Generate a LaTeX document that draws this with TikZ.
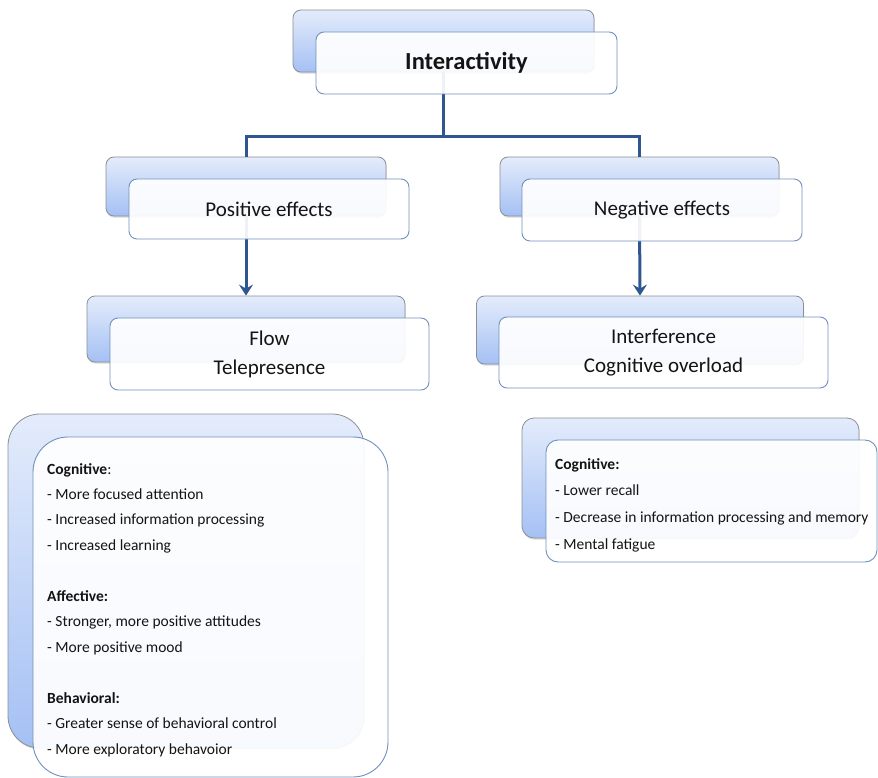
\documentclass[tikz,border=0pt]{standalone}
\usepackage{fontspec}
\setmainfont{Carlito}
\usetikzlibrary{arrows.meta,shadows}

\definecolor{backtop}{HTML}{E4ECFB}
\definecolor{backbot}{HTML}{A4C0F4}
\definecolor{backline}{HTML}{8C8F96}
\definecolor{frontline}{HTML}{7090BE}
\definecolor{connblue}{HTML}{2F5690}
\definecolor{textc}{HTML}{141414}

\tikzset{
  backbox/.style={draw=backline, line width=0.8pt, rounded corners=#1,
    top color=backtop, bottom color=backbot, inner sep=0pt,
    drop shadow={shadow xshift=0.6pt, shadow yshift=-1.6pt, opacity=0.15, fill=black}},
  backbox/.default=8pt,
  frontbox/.style={draw=frontline, line width=0.9pt, rounded corners=#1,
    fill=white, fill opacity=0.92, text opacity=1, inner sep=0pt, text=textc},
  frontbox/.default=8pt,
  connector/.style={draw=connblue, line width=3pt, line join=miter},
  arrowline/.style={connector, -{Stealth[length=11pt,width=14pt,inset=4pt]}},
  labelfont/.style={font=\fontsize{21}{29}\selectfont},
  titlefont/.style={font=\fontsize{24.5}{29}\selectfont\bfseries},
  listtext/.style={anchor=base west, inner sep=0pt, text=textc,
    font=\fontsize{15.5}{18}\selectfont}
}

\begin{document}
\begin{tikzpicture}[x=1pt,y=-1pt]
\useasboundingbox (0,0) rectangle (878,778);

% back (shaded) layers
\node[backbox, minimum width=301pt, minimum height=62pt] (intB) at (443.5,41) {};
\node[backbox, minimum width=280pt, minimum height=59pt] (posB) at (246,186.5) {};
\node[backbox, minimum width=279pt, minimum height=59pt] (negB) at (639.5,186.5) {};
\node[backbox, minimum width=318pt, minimum height=66pt] (flowB) at (246,329) {};
\node[backbox, minimum width=327pt, minimum height=68pt] (intfB) at (640,330) {};
\node[backbox=32pt, minimum width=356pt, minimum height=334pt] (cogLB) at (186,581) {};
\node[backbox=12pt, minimum width=337pt, minimum height=120pt] (cogRB) at (690.5,478) {};

% connectors
\coordinate (split) at (intB.south |- 0,137);
\draw[connector] (intB.south) -- (split) -| (posB.north);
\draw[connector] (split) -| (negB.north);
\draw[arrowline] (posB.south) -- (flowB.north);
\draw[arrowline] (negB.south) -- (intfB.north);

% front (white) layers with labels
\node[frontbox, titlefont, minimum width=301pt, minimum height=62pt] (intF) at (466.5,63) {Interactivity};
\node[frontbox, labelfont, minimum width=280pt, minimum height=60pt] (posF) at (269,209) {Positive effects};
\node[frontbox, labelfont, minimum width=280pt, minimum height=62pt] (negF) at (662,210) {Negative effects};
\node[frontbox, labelfont, align=center, minimum width=319pt, minimum height=72pt] (flowF) at (269.5,354) {Flow\\Telepresence};
\node[frontbox, labelfont, align=center, minimum width=329pt, minimum height=71pt] (intfF) at (663.5,352.5) {Interference\\Cognitive overload};
\node[frontbox=35pt, minimum width=355pt, minimum height=340pt] (cogLF) at (210.5,607) {};
\node[frontbox=12pt, minimum width=331pt, minimum height=122pt] (cogRF) at (711.5,501) {};

% positive effects list
\node[listtext] (pc0)  at (47,474.0) {\textbf{Cognitive}:};
\node[listtext] (pc1)  at (47,499.5) {- More focused attention};
\node[listtext] (pc2)  at (47,524.9) {- Increased information processing};
\node[listtext] (pc3)  at (47,550.4) {- Increased learning};
\node[listtext] (pa0)  at (47,601.3) {\textbf{Affective:}};
\node[listtext] (pa1)  at (47,626.7) {- Stronger, more positive attitudes};
\node[listtext] (pa2)  at (47,652.2) {- More positive mood};
\node[listtext] (pb0)  at (47,703.1) {\textbf{Behavioral:}};
\node[listtext] (pb1)  at (47,728.5) {- Greater sense of behavioral control};
\node[listtext] (pb2)  at (47,754.0) {- More exploratory behavoior};

% negative effects list
\node[listtext] (nc0) at (555,469.0) {\textbf{Cognitive:}};
\node[listtext] (nc1) at (555,495.7) {- Lower recall};
\node[listtext] (nc2) at (555,522.3) {- Decrease in information processing and memory};
\node[listtext] (nc3) at (555,549.0) {- Mental fatigue};
\end{tikzpicture}
\end{document}
